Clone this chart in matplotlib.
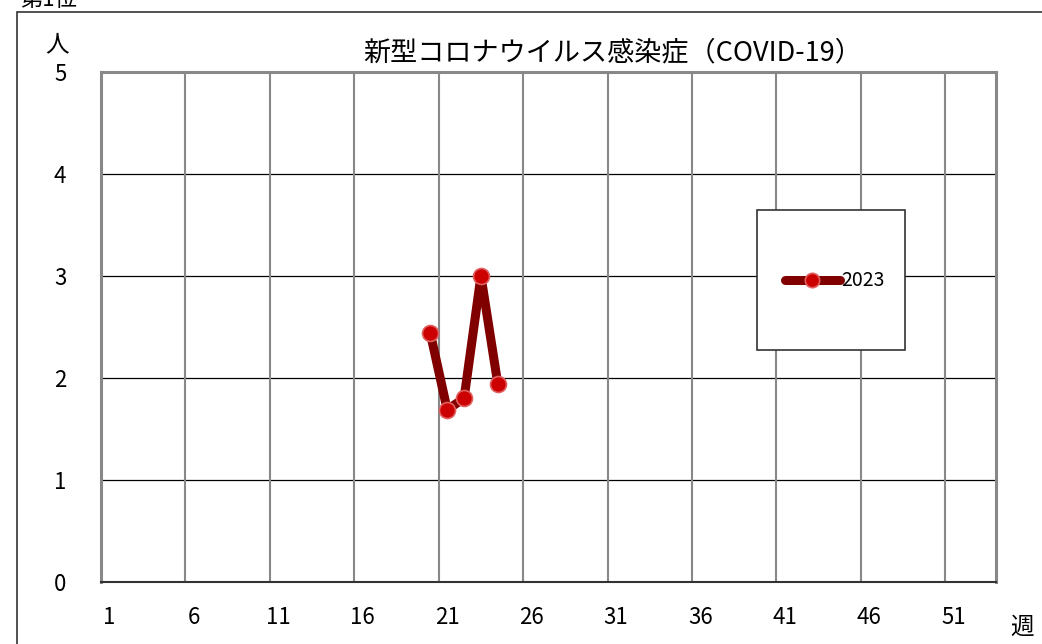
import matplotlib
matplotlib.use("Agg")
import matplotlib.pyplot as plt
from matplotlib.patches import Rectangle

plt.rcParams['font.family'] = ['Noto Sans CJK JP', 'DejaVu Sans']

weeks = [20, 21, 22, 23, 24]
cases_2023 = [2.44, 1.69, 1.80, 3.00, 1.94]
series_label = "2023"
title = "新型コロナウイルス感染症（COVID-19）"
xtick_weeks = [1, 6, 11, 16, 21, 26, 31, 36, 41, 46, 51]
ytick_vals = [0, 1, 2, 3, 4, 5]

W, H = 1042, 644
fig = plt.figure(figsize=(W / 100, H / 100), dpi=100)
ax = fig.add_axes([101 / W, 1 - 582 / H, 895 / W, 510 / H])

# outer frame (partly off the picture)
fig.patches.append(Rectangle((17 / W, -0.1), 1.2, 1 - 12 / H + 0.1,
                             transform=fig.transFigure, fill=False,
                             edgecolor='#333333', linewidth=1.2))
fig.text(20 / W, 1.0, "第1位", fontsize=16, ha='left', va='center')

ax.plot(weeks, cases_2023, color='#800000', linewidth=6.5, solid_joinstyle='round',
        solid_capstyle='round', marker='o', markersize=11.5, markerfacecolor='#CC0000',
        markeredgecolor='#E06060', markeredgewidth=1.2, label=series_label, zorder=3)

ax.set_xlim(0.5, 53.5)
ax.set_ylim(0, 5)
ax.set_xticks(xtick_weeks)
ax.set_xticklabels([str(w) for w in xtick_weeks])
ax.set_yticks(ytick_vals)
ax.tick_params(axis='both', length=0, labelsize=16)
ax.tick_params(axis='x', pad=17)
ax.tick_params(axis='y', pad=25)

for v in range(1, 5):
    ax.axhline(v, color='black', linewidth=0.9, zorder=1)
for b in range(5, 51, 5):
    ax.axvline(b + 0.5, color='#888888', linewidth=1.5, zorder=1)

for s in ['top', 'left', 'right']:
    ax.spines[s].set_color('#888888')
    ax.spines[s].set_linewidth(2.2)
ax.spines['bottom'].set_color('#333333')
ax.spines['bottom'].set_linewidth(1.5)

fig.text(613 / W, 1 - 53 / H, title, fontsize=19.5, ha='center', va='center')
fig.text(57 / W, 1 - 45 / H, "人", fontsize=17, ha='center', va='center')
fig.text(1022 / W, 1 - 627 / H, "週", fontsize=17, ha='center', va='center')

# legend box
ax.add_patch(Rectangle(((757 - 101) / 895, (582 - 350) / 510), 148 / 895, 140 / 510,
                       transform=ax.transAxes, facecolor='white',
                       edgecolor='#333333', linewidth=1.2, zorder=4))
leg = ax.legend(loc='center', bbox_to_anchor=((835 - 101) / 895, (582 - 281) / 510),
                frameon=False, fontsize=14, handlelength=2.8,
                handletextpad=0.1, borderpad=0, markerscale=0.9)
leg.set_zorder(5)

fig.savefig("out.png", dpi=100)
